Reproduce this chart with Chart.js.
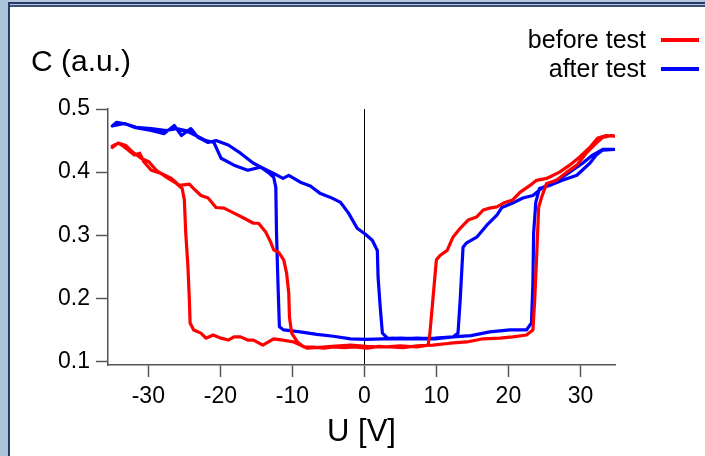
<!DOCTYPE html>
<html>
<head>
<meta charset="utf-8">
<script src="https://cdn.jsdelivr.net/npm/chart.js@4/dist/chart.umd.min.js"></script>
<style>
  html, body { margin: 0; padding: 0; background: #ffffff; }
  #wrap { position: relative; width: 705px; height: 456px; overflow: hidden; background: #ffffff; }
  #c { position: absolute; left: 0; top: 0; }
  .f { position: absolute; }
</style>
</head>
<body>
<div id="wrap">
  <div class="f" style="left:0;top:0;width:705px;height:7px;background:#b3c8dc;"></div>
  <div class="f" style="left:8px;top:2px;width:697px;height:2px;background:#2a3a68;"></div>
  <div class="f" style="left:8px;top:5px;width:697px;height:2px;background:#3a4c78;"></div>
  <div class="f" style="left:0;top:0;width:8px;height:456px;background:#adc3d7;"></div>
  <div class="f" style="left:8px;top:2px;width:2px;height:454px;background:#2a3a68;"></div>
  <canvas id="c" width="705" height="456"></canvas>
</div>
<script>
// ---- data ----
const seriesNames = ["before test", "after test"];
const seriesColors = ["#ff0000", "#0000ff"];

// "before test" loop: forward sweep then backward sweep
const beforeU = [-35.0,-34.2,-33.7,-32.8,-31.95,-31.2,-30.6,-29.6,-28.2,-26.8,-25.7,-24.3,-23.7,-22.7,-21.7,-20.6,-19.5,-18.1,-16.7,-15.4,-14.7,-13.7,-13.0,-12.6,-11.9,-11.2,-10.8,-10.5,-10.4,-10.1,-9.3,-8.4,-7.1,-5.6,-4.3,-2.8,-1.5,0.4,2.0,3.6,5.4,7.3,9.5,11.9,14.2,16.5,18.8,20.6,22.5,23.4,23.65,23.9,24.2,24.6,25.3,26.7,28.1,29.5,30.8,32.2,33.1,34.4,34.7,
  33.6,32.4,31.3,29.9,28.5,27.1,25.3,23.9,23.0,21.6,20.6,19.5,18.4,17.4,16.5,15.6,14.4,13.3,12.3,11.5,10.5,10.0,9.5,9.1,8.85,7.3,5.0,2.6,0.3,-1.9,-4.5,-7.9,-9.8,-11.3,-12.6,-14.1,-15.4,-16.2,-17.2,-18.1,-18.9,-19.9,-21.0,-22.0,-22.7,-23.7,-24.2,-24.3,-24.5,-24.8,-25.0,-25.3,-26.1,-27.5,-28.9,-29.9,-31.0,-32.1,-33.1,-34.2,-35.0];
const beforeC = [0.441,0.446,0.443,0.435,0.427,0.430,0.416,0.403,0.398,0.390,0.379,0.381,0.374,0.363,0.359,0.344,0.343,0.335,0.327,0.319,0.319,0.305,0.289,0.277,0.273,0.261,0.240,0.208,0.170,0.145,0.131,0.123,0.123,0.121,0.123,0.122,0.123,0.121,0.124,0.123,0.122,0.125,0.126,0.129,0.131,0.136,0.137,0.139,0.142,0.150,0.197,0.261,0.344,0.360,0.382,0.387,0.400,0.411,0.430,0.446,0.455,0.458,0.457,
  0.458,0.454,0.439,0.424,0.411,0.400,0.390,0.387,0.379,0.368,0.356,0.352,0.345,0.343,0.340,0.329,0.324,0.311,0.297,0.276,0.268,0.261,0.197,0.145,0.126,0.123,0.125,0.123,0.124,0.126,0.124,0.121,0.131,0.134,0.136,0.126,0.134,0.134,0.139,0.139,0.134,0.137,0.142,0.137,0.145,0.150,0.161,0.197,0.250,0.303,0.356,0.374,0.382,0.392,0.403,0.416,0.422,0.431,0.442,0.446,0.439];

// "after test" loop
const afterU = [-35.0,-33.3,-31.95,-29.6,-27.8,-26.4,-25.4,-24.1,-23.1,-21.7,-20.6,-18.9,-17.2,-15.4,-14.0,-12.6,-11.3,-10.5,-8.9,-7.5,-6.1,-4.7,-3.3,-2.2,-1.0,0.1,1.1,1.8,1.9,2.2,2.5,3.2,5.2,7.3,9.8,12.3,14.8,17.4,20.2,22.5,23.2,23.4,23.5,23.8,24.3,25.7,27.5,29.5,31.3,32.2,33.1,34.7,
  33.1,31.7,30.3,28.9,27.5,26.1,24.8,23.4,22.0,20.6,19.1,18.4,17.0,15.6,14.2,13.7,13.3,13.0,12.3,9.8,7.3,5.0,2.6,0.3,-1.9,-4.3,-6.6,-8.9,-11.2,-11.8,-12.0,-12.2,-12.3,-12.6,-13.4,-14.4,-16.2,-18.1,-19.9,-20.9,-22.0,-23.4,-24.8,-26.1,-27.5,-29.6,-31.7,-33.1,-34.4,-35.0];
const afterC = [0.473,0.477,0.471,0.466,0.461,0.474,0.458,0.469,0.455,0.447,0.450,0.443,0.430,0.414,0.406,0.398,0.390,0.395,0.384,0.378,0.366,0.360,0.352,0.335,0.311,0.302,0.292,0.276,0.234,0.186,0.145,0.137,0.136,0.137,0.136,0.139,0.141,0.147,0.150,0.150,0.161,0.224,0.303,0.352,0.374,0.379,0.387,0.395,0.414,0.427,0.435,0.436,
  0.436,0.427,0.414,0.403,0.392,0.384,0.376,0.363,0.359,0.351,0.344,0.332,0.316,0.297,0.288,0.281,0.197,0.145,0.139,0.137,0.136,0.137,0.136,0.135,0.136,0.140,0.143,0.147,0.150,0.155,0.224,0.303,0.376,0.392,0.400,0.408,0.403,0.411,0.422,0.447,0.450,0.458,0.466,0.469,0.466,0.469,0.471,0.476,0.479,0.473];

const xTicks = [-30, -20, -10, 0, 10, 20, 30];
const yTicks = [0.1, 0.2, 0.3, 0.4, 0.5];
const xTitle = "U [V]";
const yTitle = "C (a.u.)";

// ---- chart ----
const FONT = "'Liberation Sans', Arial, sans-serif";
function pts(us, cs) { return us.map((u, i) => ({ x: u, y: cs[i] })); }

const overlayText = {
  id: 'overlayText',
  afterDraw(chart) {
    const ctx = chart.ctx;
    ctx.save();
    // y-axis caption above the axis
    ctx.fillStyle = '#000';
    ctx.font = '30px ' + FONT;
    ctx.textAlign = 'left';
    ctx.textBaseline = 'alphabetic';
    ctx.fillText(yTitle, 31, 71);
    // legend: text then line sample on the right
    ctx.font = '25px ' + FONT;
    ctx.textAlign = 'right';
    chart.data.datasets.forEach((ds, i) => {
      const base = 48 + i * 29;
      ctx.fillStyle = '#000';
      ctx.fillText(ds.label, 646, base);
      ctx.strokeStyle = ds.borderColor;
      ctx.lineWidth = 4;
      ctx.beginPath();
      ctx.moveTo(661, base - 8);
      ctx.lineTo(699, base - 8);
      ctx.stroke();
    });
    ctx.restore();
  }
};

new Chart(document.getElementById('c'), {
  type: 'scatter',
  data: {
    datasets: [
      { label: seriesNames[0], data: pts(beforeU, beforeC), borderColor: seriesColors[0], backgroundColor: seriesColors[0] },
      { label: seriesNames[1], data: pts(afterU, afterC), borderColor: seriesColors[1], backgroundColor: seriesColors[1] }
    ]
  },
  options: {
    responsive: false,
    animation: false,
    showLine: true,
    elements: {
      point: { radius: 0, hoverRadius: 0 },
      line: { borderWidth: 3.2, tension: 0, fill: false, borderJoinStyle: 'round', borderCapStyle: 'round' }
    },
    layout: { padding: { top: 109, right: 90, left: 0, bottom: 0 } },
    plugins: { legend: { display: false }, title: { display: false }, tooltip: { enabled: false } },
    scales: {
      x: {
        type: 'linear',
        min: -35.6, max: 34.8,
        afterBuildTicks: s => { s.ticks = xTicks.map(v => ({ value: v })); },
        afterFit: s => { s.height = 91; },
        ticks: { color: '#000', font: { family: FONT, size: 23 }, padding: 6, maxRotation: 0, autoSkip: false, callback: v => String(v) },
        grid: {
          drawOnChartArea: true,
          color: c => (c.tick && c.tick.value === 0) ? '#000000' : 'rgba(0,0,0,0)',
          lineWidth: 1,
          tickColor: '#555', tickWidth: 1.5, tickLength: 12
        },
        border: { display: true, color: '#555', width: 1.5 },
        title: { display: true, text: xTitle, color: '#000', font: { family: FONT, size: 31 }, padding: { top: 0, bottom: 5 } }
      },
      y: {
        type: 'linear',
        min: 0.0945, max: 0.5,
        afterBuildTicks: s => { s.ticks = yTicks.map(v => ({ value: v })); },
        afterFit: s => { s.width = 108; },
        ticks: { color: '#000', font: { family: FONT, size: 23 }, padding: 6, autoSkip: false, callback: v => v.toFixed(1) },
        grid: { drawOnChartArea: false, tickColor: '#555', tickWidth: 1.5, tickLength: 12 },
        border: { display: true, color: '#555', width: 1.5 }
      }
    }
  },
  plugins: [overlayText]
});
</script>
</body>
</html>
